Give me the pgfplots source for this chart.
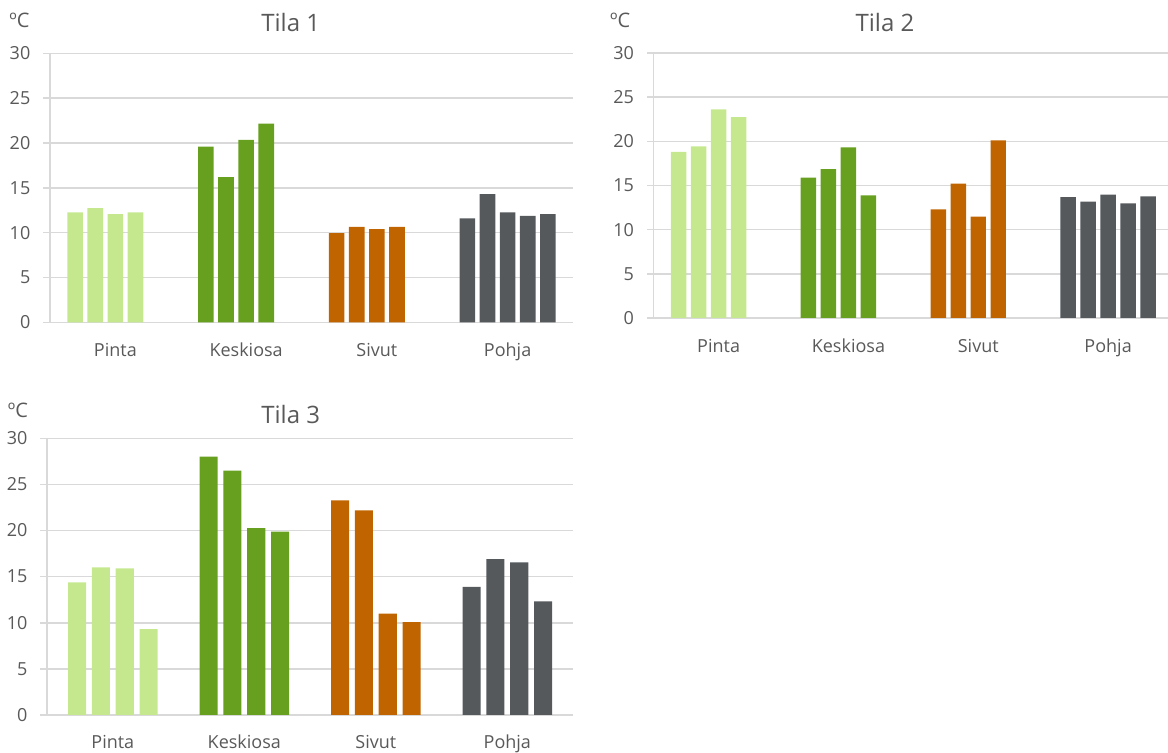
\documentclass[border=0pt]{standalone}
\usepackage{fontspec}
\setmainfont{Open Sans}
\usepackage{pgfplots}
\pgfplotsset{compat=1.18}
\definecolor{cPinta}{HTML}{C5E88F}
\definecolor{cKesk}{HTML}{66A01E}
\definecolor{cSivut}{HTML}{C06400}
\definecolor{cPohja}{HTML}{55595C}
\definecolor{txt}{HTML}{595959}
\definecolor{gridc}{HTML}{D9D9D9}
\pgfplotsset{tilastyle/.style={
  scale only axis, ymin=0, ymax=30, ytick={0,5,...,30}, xmin=-0.5, xmax=3.5,
  axis lines*=left, axis line style={gridc, line width=0.75pt},
  ymajorgrids, major grid style={gridc, line width=0.75pt},
  xtick={0,1,2,3}, xticklabels={Pinta,Keskiosa,Sivut,Pohja},
  xtick style={draw=none}, ytick style={gridc, line width=0.75pt},
  tick align=outside, major tick length=3.35pt,
  tick label style={font=\fontsize{9}{10}\selectfont, text=txt},
  yticklabel style={inner sep=0pt, xshift=-6.3pt},
  xticklabel style={anchor=base, inner sep=0pt, yshift=-13.9pt},
  /pgf/number format/assume math mode=true,
  anchor=south west,
}}
\begin{document}
\begin{tikzpicture}
\useasboundingbox (0,0) rectangle (584pt,376.5pt);
% ---------- Tila 1 ----------
\begin{axis}[tilastyle, at={(25pt,215.35pt)}, width=261.5pt, height=134.5pt]
\addplot[ybar, bar width=0.119, fill=cPinta, draw=none] coordinates {(-0.308,12.25) (-0.154,12.73) (0,12.06) (0.154,12.25)};
\addplot[ybar, bar width=0.119, fill=cKesk, draw=none] coordinates {(0.692,19.6) (0.846,16.18) (1,20.34) (1.154,22.16)};
\addplot[ybar, bar width=0.119, fill=cSivut, draw=none] coordinates {(1.692,9.94) (1.846,10.65) (2,10.39) (2.154,10.65)};
\addplot[ybar, bar width=0.119, fill=cPohja, draw=none] coordinates {(2.692,11.58) (2.846,14.29) (3,12.25) (3.154,11.87) (3.308,12.06)};
\end{axis}
% ---------- Tila 2 ----------
\begin{axis}[tilastyle, at={(326.85pt,217.5pt)}, width=257.15pt, height=132.45pt, xmax=3.4615]
\addplot[ybar, bar width=0.119, fill=cPinta, draw=none] coordinates {(-0.308,18.8) (-0.154,19.44) (0,23.63) (0.154,22.76)};
\addplot[ybar, bar width=0.119, fill=cKesk, draw=none] coordinates {(0.692,15.89) (0.846,16.87) (1,19.33) (1.154,13.89)};
\addplot[ybar, bar width=0.119, fill=cSivut, draw=none] coordinates {(1.692,12.31) (1.846,15.21) (2,11.47) (2.154,20.12)};
\addplot[ybar, bar width=0.119, fill=cPohja, draw=none] coordinates {(2.692,13.7) (2.846,13.17) (3,13.96) (3.154,12.99) (3.308,13.78)};
\end{axis}
% ---------- Tila 3 ----------
\begin{axis}[tilastyle, at={(23.55pt,19pt)}, width=263pt, height=138.35pt,
  xticklabel style={yshift=0.6pt}]
\addplot[ybar, bar width=0.137, fill=cPinta, draw=none] coordinates {(-0.2715,14.38) (-0.0905,16.01) (0.0905,15.9) (0.2715,9.32)};
\addplot[ybar, bar width=0.137, fill=cKesk, draw=none] coordinates {(0.7285,28.0) (0.9095,26.49) (1.0905,20.27) (1.2715,19.88)};
\addplot[ybar, bar width=0.137, fill=cSivut, draw=none] coordinates {(1.7285,23.27) (1.9095,22.19) (2.0905,10.99) (2.2715,10.08)};
\addplot[ybar, bar width=0.137, fill=cPohja, draw=none] coordinates {(2.7285,13.88) (2.9095,16.91) (3.0905,16.55) (3.2715,12.32)};
\end{axis}
% titles and units
\node[anchor=base, text=txt, font=\fontsize{12}{14}\selectfont, inner sep=0pt] at (145.35pt,360.65pt) {Tila 1};
\node[anchor=base, text=txt, font=\fontsize{12}{14}\selectfont, inner sep=0pt] at (442.5pt,360.65pt) {Tila 2};
\node[anchor=base, text=txt, font=\fontsize{12}{14}\selectfont, inner sep=0pt] at (145.35pt,164.85pt) {Tila 3};
\node[anchor=base east, text=txt, font=\fontsize{10}{11}\selectfont, inner sep=0pt] at (15pt,362.5pt) {ºC};
\node[anchor=base east, text=txt, font=\fontsize{10}{11}\selectfont, inner sep=0pt] at (315.35pt,362.5pt) {ºC};
\node[anchor=base east, text=txt, font=\fontsize{10}{11}\selectfont, inner sep=0pt] at (14.15pt,167.5pt) {ºC};
\end{tikzpicture}
\end{document}
